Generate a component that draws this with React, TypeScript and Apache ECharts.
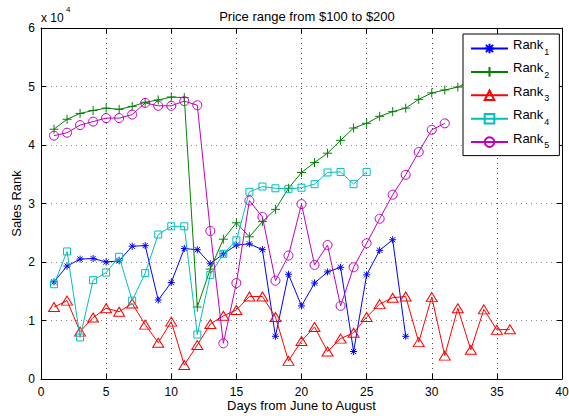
import React, { useEffect, useRef } from "react";
import * as echarts from "echarts";

const days = Array.from({ length: 40 }, (_, i) => i + 1);

const rank1 = [16600, 19300, 20500, 20600, 20000, 20200, 22700, 22800, 13500, 16500, 22300, 22100, 19700, 21400, 22900, 23100, 22100, 7300, 17900, 12500, 16400, 18300, 19100, 4700, 17800, 22000, 23800, 7300];
const rank2 = [42700, 44400, 45400, 45900, 46300, 46100, 46600, 47300, 47700, 48200, 48100, 12300, 18800, 23900, 26700, 24300, 26900, 29000, 32600, 35300, 37000, 38600, 40800, 42900, 43700, 44900, 45700, 46300, 47800, 48900, 49400, 49900, 51000];
const rank3 = [12300, 13400, 8100, 10500, 12100, 11500, 12900, 9300, 6200, 9800, 2400, 5800, 9400, 10800, 11800, 14100, 14100, 10600, 3100, 6500, 8900, 4700, 6900, 7900, 10600, 12800, 13900, 14100, 6300, 14000, 4000, 12100, 5000, 11900, 8400, 8500];
const rank4 = [16200, 21800, 7100, 16900, 18200, 20900, 13400, 18100, 24700, 26100, 26100, 7600, 17800, 21400, 23700, 32000, 32900, 32600, 32500, 32700, 33300, 35300, 35400, 33300, 35400];
const rank5 = [41600, 42100, 43400, 44000, 44600, 44600, 45200, 47200, 46700, 46700, 47500, 46800, 25300, 6100, 16400, 30500, 27700, 16800, 21100, 29900, 19500, 22900, 12500, 19100, 23200, 27400, 31500, 34900, 38800, 42600, 43700];

const seriesNames = ["Rank1", "Rank2", "Rank3", "Rank4", "Rank5"];
const seriesValues = [rank1, rank2, rank3, rank4, rank5];
const xTicks = { min: 0, max: 40, interval: 5 };
const yTicks = { min: 0, max: 60000, interval: 10000 };

const colors = ["#0000ff", "#008000", "#ff0000", "#00bfbf", "#bf00bf"];
const symbols = [
  "path://M0 -10L0 10M-10 0L10 0M-7.5 -7.5L7.5 7.5M-7.5 7.5L7.5 -7.5",
  "path://M0 -10L0 10M-10 0L10 0",
  "triangle",
  "rect",
  "circle",
];
const symbolSizes: any[] = [7, 9, [11, 9], 7, 9];

const FONT = "'Liberation Sans', Arial, Helvetica, sans-serif";

export default function App() {
  const ref = useRef<HTMLDivElement>(null);
  useEffect(() => {
    if (!ref.current) return;
    const chart = echarts.init(ref.current, null, { renderer: "svg" });
    const series = seriesNames.map((name, si) => ({
      name,
      type: "line",
      data: seriesValues[si].map((v, i) => [days[i], v]),
      symbol: symbols[si],
      symbolSize: symbolSizes[si],
      showSymbol: true,
      lineStyle: { color: colors[si], width: 1 },
      itemStyle: {
        color: si < 2 ? colors[si] : "rgba(0,0,0,0)",
        borderColor: colors[si],
        borderWidth: 1,
      },
      emphasis: { disabled: true },
      z: 2 + si * 0.01,
    }));
    const axisCommon = {
      axisLine: { show: true, onZero: false, lineStyle: { color: "#000", width: 1 } },
      axisTick: { show: true, inside: true, length: 5, lineStyle: { color: "#000" } },
    };
    chart.setOption({
      animation: false,
      backgroundColor: "#fff",
      textStyle: { fontFamily: FONT },
      title: {
        text: "Price range from $100 to $200",
        left: 302,
        top: 5,
        textAlign: "center",
        textStyle: { fontFamily: FONT, fontSize: 13, fontWeight: "normal", color: "#000" },
      },
      grid: { left: 41, right: 7, top: 28, bottom: 37, containLabel: false, outerBoundsMode: "none" },
      xAxis: [
        {
          type: "value",
          ...xTicks,
          ...axisCommon,
          name: "Days from June to August",
          nameLocation: "middle",
          nameGap: 20,
          nameMoveOverlap: false,
          nameTextStyle: { fontFamily: FONT, fontSize: 13, color: "#000" },
          axisLabel: { color: "#000", fontSize: 12, fontFamily: FONT, margin: 7 },
          splitLine: { show: true, lineStyle: { color: "#444", type: [1, 4], width: 1 } },
        },
        {
          type: "value",
          position: "top",
          ...xTicks,
          ...axisCommon,
          axisLabel: { show: false },
          splitLine: { show: false },
        },
      ],
      yAxis: [
        {
          type: "value",
          ...yTicks,
          ...axisCommon,
          name: "Sales Rank",
          nameLocation: "middle",
          nameGap: 18,
          nameMoveOverlap: false,
          nameRotate: 90,
          nameTextStyle: { fontFamily: FONT, fontSize: 13, color: "#000" },
          axisLabel: {
            color: "#000",
            fontSize: 12,
            fontFamily: FONT,
            margin: 6,
            formatter: (v: number) => String(v / 10000),
          },
          splitLine: { show: true, lineStyle: { color: "#888", type: [1, 4], width: 1 } },
        },
        {
          type: "value",
          position: "right",
          ...yTicks,
          ...axisCommon,
          axisLabel: { show: false },
          splitLine: { show: false },
        },
      ],
      legend: {
        data: seriesNames,
        orient: "vertical",
        left: 463,
        top: 34,
        backgroundColor: "#fff",
        borderColor: "#000",
        borderWidth: 1,
        borderRadius: 0,
        padding: [4, 10, 3, 7],
        itemGap: 2.4,
        itemWidth: 37,
        itemHeight: 12,
        selectedMode: false,
        formatter: (name: string) => `{a|Rank}{b|${name.slice(4)}}`,
        textStyle: {
          fontFamily: FONT,
          color: "#000",
          rich: {
            a: { fontSize: 13, fontFamily: FONT, color: "#000", lineHeight: 13, padding: [0, 0, 8, 0] },
            b: { fontSize: 9, fontFamily: FONT, color: "#000", lineHeight: 9, padding: [6, 0, 0, 1] },
          },
        },
      },
      graphic: [
        {
          type: "text",
          left: 41,
          top: 12,
          style: { text: "x 10", fontSize: 12, fontFamily: FONT, fill: "#000" },
        },
        {
          type: "text",
          left: 66,
          top: 5,
          style: { text: "4", fontSize: 8, fontFamily: FONT, fill: "#000" },
        },
      ],
      series,
    });
    return () => chart.dispose();
  }, []);
  return (
    <div
      ref={ref}
      style={{ position: "fixed", left: 0, top: 0, width: 569, height: 416, background: "#fff" }}
    />
  );
}
